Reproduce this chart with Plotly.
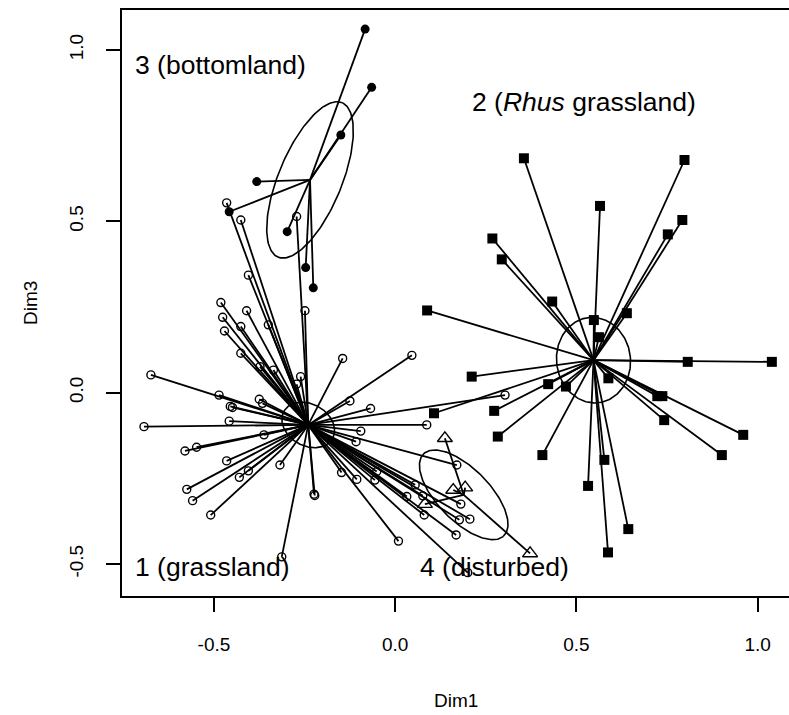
import numpy as np
import plotly.graph_objects as go

# ---- site scores on Dim1 / Dim3, by vegetation group ----
grass_x = [-0.465, -0.426, -0.272, -0.405, -0.481, -0.410, -0.476, -0.426, -0.350, -0.471,
           -0.249, -0.426, -0.373, -0.336, -0.145, -0.261, -0.272, -0.674, -0.486, -0.375,
           -0.366, -0.449, -0.455, -0.125, -0.068, -0.693, -0.458, -0.362, -0.095, -0.108,
           -0.548, -0.580, -0.465, -0.318, -0.405, -0.430, -0.575, -0.559, -0.509, -0.224,
           -0.222, -0.313, -0.148, -0.106, -0.056, 0.303, 0.087, 0.170, 0.055, 0.032,
           0.076, 0.080, 0.181, 0.177, 0.206, 0.168, 0.009, 0.200, -0.051, 0.046]
grass_y = [0.554, 0.504, 0.514, 0.343, 0.263, 0.239, 0.220, 0.193, 0.198, 0.180,
           0.239, 0.115, 0.076, 0.066, 0.100, 0.047, 0.025, 0.052, -0.007, -0.019,
           -0.031, -0.043, -0.040, -0.024, -0.046, -0.099, -0.083, -0.123, -0.112, -0.143,
           -0.159, -0.170, -0.199, -0.211, -0.228, -0.247, -0.282, -0.315, -0.357, -0.296,
           -0.300, -0.479, -0.233, -0.253, -0.255, -0.007, -0.094, -0.211, -0.269, -0.303,
           -0.301, -0.357, -0.325, -0.371, -0.369, -0.415, -0.433, -0.525, -0.230, 0.109]

rhus_x = [0.355, 0.798, 0.565, 0.792, 0.752, 0.268, 0.294, 0.433, 0.639, 0.548,
          0.562, 0.807, 1.039, 0.211, 0.422, 0.471, 0.588, 0.107, 0.273, 0.283,
          0.406, 0.532, 0.577, 0.587, 0.643, 0.742, 0.723, 0.737, 0.901, 0.960, 0.088]
rhus_y = [0.684, 0.679, 0.545, 0.504, 0.462, 0.450, 0.389, 0.266, 0.232, 0.212,
          0.162, 0.090, 0.090, 0.047, 0.025, 0.018, 0.042, -0.060, -0.053, -0.128,
          -0.182, -0.272, -0.196, -0.466, -0.398, -0.080, -0.010, -0.010, -0.182, -0.123, 0.240]

bottom_x = [-0.083, -0.065, -0.150, -0.382, -0.458, -0.298, -0.247, -0.226]
bottom_y = [1.061, 0.891, 0.752, 0.616, 0.528, 0.470, 0.365, 0.306]

dist_x = [0.137, 0.160, 0.193, 0.082, 0.372]
dist_y = [-0.133, -0.284, -0.277, -0.325, -0.469]

# group centres used by the spider and the ellipses
centre_x = [-0.240, 0.547, -0.235, 0.189]
centre_y = [-0.094, 0.095, 0.621, -0.298]

# ellipse semi-axes (data units) and rotation (degrees)
ell_a = [0.078, 0.125, 0.242, 0.163]
ell_b = [0.060, 0.102, 0.088, 0.074]
ell_rot = [-35, 95, 69, -48]

group_labels = ["1 (grassland)", "2 (<i>Rhus</i> grassland)", "3 (bottomland)", "4 (disturbed)"]
label_x = [-0.723, 0.206, -0.723, 0.063]
label_y = [-0.509, 0.848, 0.956, -0.509]

x_ticks = [-0.5, 0.0, 0.5, 1.0]
x_ticktext = ["-0.5", "0.0", "0.5", "1.0"]
y_ticks = [-0.5, 0.0, 0.5, 1.0]
y_ticktext = ["-0.5", "0.0", "0.5", "1.0"]

FONT = "Liberation Sans, Arial, Helvetica, sans-serif"

groups = [
    (grass_x, grass_y, dict(symbol="circle-open", size=8, color="black", line=dict(width=1.4, color="black"))),
    (rhus_x, rhus_y, dict(symbol="square", size=10, color="black")),
    (bottom_x, bottom_y, dict(symbol="circle", size=9, color="black")),
    (dist_x, dist_y, dict(symbol="triangle-up-open", size=13, color="black", line=dict(width=1.4, color="black"))),
]

fig = go.Figure()

# spider segments from each group centre to its sites
for gi, (gx, gy, _) in enumerate(groups):
    sx, sy = [], []
    for px, py in zip(gx, gy):
        sx += [centre_x[gi], px, None]
        sy += [centre_y[gi], py, None]
    fig.add_trace(go.Scatter(x=sx, y=sy, mode="lines",
                             line=dict(color="black", width=1.8),
                             hoverinfo="skip", showlegend=False))

# dispersion ellipses
t = np.linspace(0, 2 * np.pi, 181)
for gi in range(4):
    phi = np.deg2rad(ell_rot[gi])
    ex = centre_x[gi] + ell_a[gi] * np.cos(t) * np.cos(phi) - ell_b[gi] * np.sin(t) * np.sin(phi)
    ey = centre_y[gi] + ell_a[gi] * np.cos(t) * np.sin(phi) + ell_b[gi] * np.sin(t) * np.cos(phi)
    fig.add_trace(go.Scatter(x=ex, y=ey, mode="lines",
                             line=dict(color="black", width=1.6),
                             hoverinfo="skip", showlegend=False))

# site symbols
for gx, gy, mk in groups:
    fig.add_trace(go.Scatter(x=gx, y=gy, mode="markers", marker=mk,
                             showlegend=False))

# group names
for txt, lx, ly in zip(group_labels, label_x, label_y):
    fig.add_annotation(x=lx, y=ly, xref="x", yref="y", text=txt, showarrow=False,
                       xanchor="left", yanchor="middle",
                       font=dict(family=FONT, size=26.5, color="black"))

# axis titles
fig.add_annotation(x=0.5, y=-0.1775, xref="paper", yref="paper", text="Dim1",
                   showarrow=False, xanchor="center", yanchor="middle",
                   font=dict(family=FONT, size=19, color="black"))
fig.add_annotation(x=-0.138, y=0.5, xref="paper", yref="paper", text="Dim3",
                   showarrow=False, textangle=-90, xanchor="center", yanchor="middle",
                   font=dict(family=FONT, size=19, color="black"))

fig.update_layout(
    width=789, height=715,
    margin=dict(l=122, r=0, t=10, b=119),
    paper_bgcolor="white", plot_bgcolor="white",
    font=dict(family=FONT, color="black"),
    xaxis=dict(range=[-0.7537, 1.0863], tickvals=x_ticks, ticktext=x_ticktext,
               showgrid=False, zeroline=False, showline=True, linecolor="black",
               linewidth=1.5, mirror=True, ticks="outside", ticklen=14, tickwidth=1.5,
               tickcolor="black", ticklabelstandoff=16,
               tickfont=dict(family=FONT, size=19, color="black")),
    yaxis=dict(range=[-0.5932, 1.1167], tickvals=y_ticks, ticktext=y_ticktext,
               showgrid=False, zeroline=False, showline=True, linecolor="black",
               linewidth=1.5, mirror=False, ticks="outside", ticklen=14, tickwidth=1.5,
               tickcolor="black", tickangle=-90, ticklabelstandoff=16,
               tickfont=dict(family=FONT, size=19, color="black")),
)

fig.write_html("out.html")
